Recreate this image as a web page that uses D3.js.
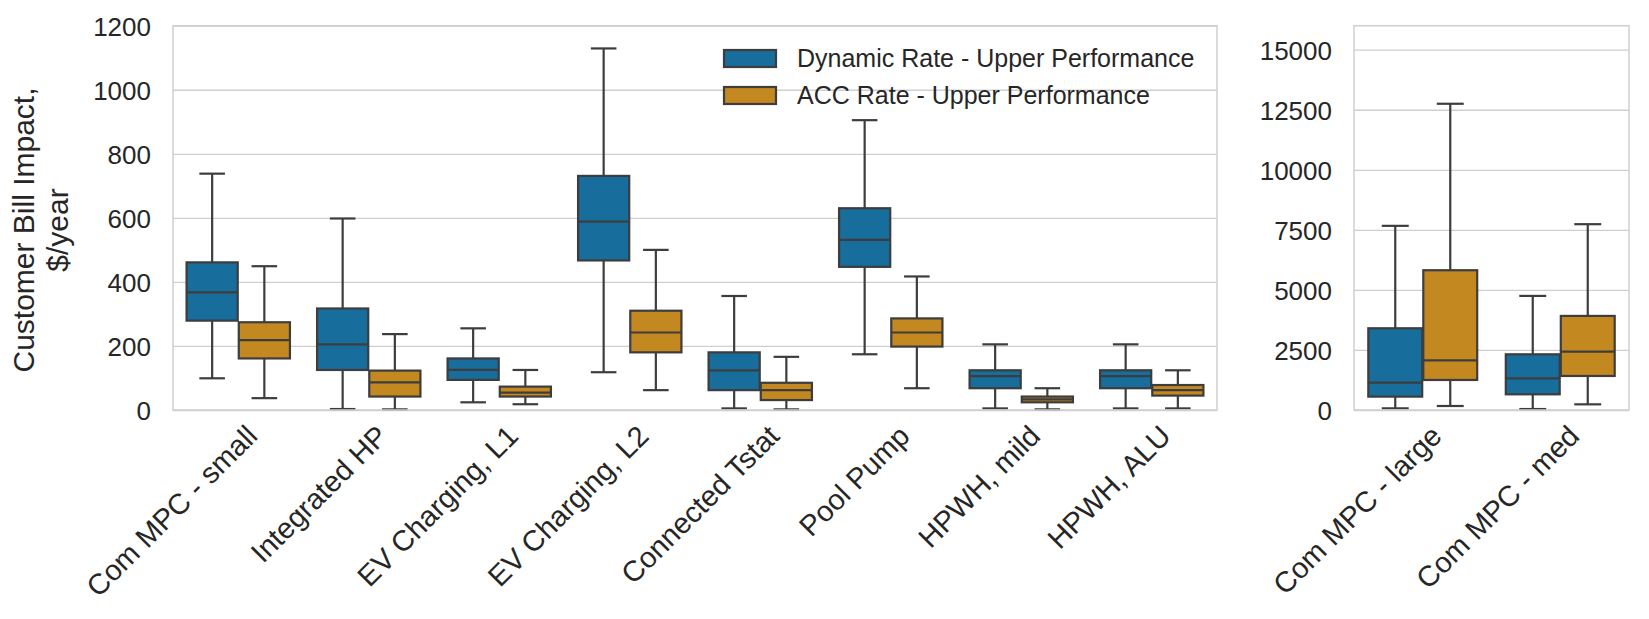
<!DOCTYPE html>
<html>
<head>
<meta charset="utf-8">
<script src="https://cdn.jsdelivr.net/npm/d3@7/dist/d3.min.js"></script>
<style>
  html, body { margin: 0; padding: 0; background: #fff; }
  svg { display: block; font-family: "Liberation Sans", Arial, sans-serif; }
</style>
</head>
<body>
<div id="chart"></div>
<script>
// data: [low whisker, q1, median, q3, high whisker]
var seriesNames = ['Dynamic Rate - Upper Performance', 'ACC Rate - Upper Performance'];

var leftCategories = [
  'Com MPC - small', 'Integrated HP', 'EV Charging, L1', 'EV Charging, L2',
  'Connected Tstat', 'Pool Pump', 'HPWH, mild', 'HPWH, ALU'
];
var leftDynamic = [
  [99, 279, 367, 461, 738],
  [3, 125, 205, 317, 598],
  [24, 94, 125, 161, 255],
  [118, 467, 588, 731, 1129],
  [5, 62, 124, 180, 356],
  [174, 447, 531, 630, 905],
  [5, 68, 106, 124, 205],
  [5, 68, 106, 124, 205]
];
var leftAcc = [
  [37, 161, 218, 274, 449],
  [2, 42, 86, 123, 237],
  [18, 42, 54, 73, 125],
  [62, 180, 242, 310, 500],
  [2, 31, 62, 85, 166],
  [68, 198, 242, 286, 417],
  [2, 24, 33, 42, 68],
  [5, 45, 62, 78, 124]
];
var leftTicks = [0, 200, 400, 600, 800, 1000, 1200];

var rightCategories = ['Com MPC - large', 'Com MPC - med'];
var rightDynamic = [
  [69, 556, 1139, 3403, 7667],
  [40, 653, 1319, 2319, 4750]
];
var rightAcc = [
  [167, 1250, 2069, 5819, 12750],
  [236, 1417, 2431, 3917, 7736]
];
var rightTicks = [0, 2500, 5000, 7500, 10000, 12500, 15000];

//============================================================
// Settings
//------------------------------------------------------------
var width = 1649,
  height = 619,
  plotTop = 25.7,
  plotBottom = 410,
  colors = ['#176d9c', '#c38820'],
  edge = '#3d3d3d',
  gridColor = '#cfcfcf',
  textColor = '#262626';

var svg = d3
  .select('#chart')
  .append('svg')
  .attr('width', width)
  .attr('height', height);

svg
  .append('rect')
  .attr('width', width)
  .attr('height', height)
  .attr('fill', '#fff');

function boxPanel(cfg) {
  var g = svg.append('g');

  var x = d3
    .scaleBand()
    .domain(cfg.categories)
    .range([cfg.left, cfg.right]);
  var hue = d3
    .scaleBand()
    .domain(d3.range(cfg.series.length))
    .range([x.bandwidth() * 0.1, x.bandwidth() * 0.9]);
  var y = d3
    .scaleLinear()
    .domain(cfg.domain)
    .range([plotBottom, plotTop]);

  // grid + tick labels
  var yAxis = d3
    .axisLeft(y)
    .tickValues(cfg.ticks)
    .tickFormat(d3.format('d'))
    .tickSize(-(cfg.right - cfg.left))
    .tickPadding(22);

  var axisG = g
    .append('g')
    .attr('transform', 'translate(' + cfg.left + ',0)')
    .call(yAxis);
  axisG.select('.domain').remove();
  axisG
    .selectAll('.tick line')
    .attr('stroke', gridColor)
    .attr('stroke-width', 1.3);
  axisG
    .selectAll('.tick text')
    .attr('fill', textColor)
    .attr('font-size', 26)
    .attr('font-family', '"Liberation Sans", Arial, sans-serif')
    .attr('dy', '0.36em');

  // boxes
  var bw = hue.bandwidth() * 0.98;
  cfg.series.forEach(function(values, si) {
    var boxes = g
      .append('g')
      .selectAll('g.box')
      .data(values)
      .enter()
      .append('g')
      .attr('class', 'box')
      .attr('transform', function(d, i) {
        return 'translate(' + (x(cfg.categories[i]) + hue(si) + hue.bandwidth() / 2) + ',0)';
      });

    boxes
      .append('line')
      .attr('y1', function(d) { return y(d[0]); })
      .attr('y2', function(d) { return y(d[1]); });
    boxes
      .append('line')
      .attr('y1', function(d) { return y(d[3]); })
      .attr('y2', function(d) { return y(d[4]); });
    boxes
      .append('line')
      .attr('x1', -bw / 4)
      .attr('x2', bw / 4)
      .attr('y1', function(d) { return y(d[0]); })
      .attr('y2', function(d) { return y(d[0]); });
    boxes
      .append('line')
      .attr('x1', -bw / 4)
      .attr('x2', bw / 4)
      .attr('y1', function(d) { return y(d[4]); })
      .attr('y2', function(d) { return y(d[4]); });
    boxes
      .append('rect')
      .attr('x', -bw / 2)
      .attr('width', bw)
      .attr('y', function(d) { return y(d[3]); })
      .attr('height', function(d) { return y(d[1]) - y(d[3]); })
      .attr('fill', colors[si]);
    boxes
      .append('line')
      .attr('x1', -bw / 2)
      .attr('x2', bw / 2)
      .attr('y1', function(d) { return y(d[2]); })
      .attr('y2', function(d) { return y(d[2]); });

    boxes
      .selectAll('line, rect')
      .attr('stroke', edge)
      .attr('stroke-width', 2.2);
  });

  // category labels, rotated
  g
    .append('g')
    .selectAll('text')
    .data(cfg.categories)
    .enter()
    .append('text')
    .attr('transform', function(d) {
      return 'translate(' + (x(d) + x.bandwidth() / 2 + 6) + ',423) rotate(-45)';
    })
    .attr('text-anchor', 'end')
    .attr('dy', '0.72em')
    .attr('font-size', 29)
    .attr('fill', textColor)
    .text(function(d) { return d; });

  // frame on top
  g
    .append('rect')
    .attr('x', cfg.left)
    .attr('y', plotTop)
    .attr('width', cfg.right - cfg.left)
    .attr('height', plotBottom - plotTop)
    .attr('fill', 'none')
    .attr('stroke', gridColor)
    .attr('stroke-width', 1.5);

  return g;
}

boxPanel({
  categories: leftCategories,
  series: [leftDynamic, leftAcc],
  domain: [0, 1200],
  ticks: leftTicks,
  left: 173,
  right: 1217
});

boxPanel({
  categories: rightCategories,
  series: [rightDynamic, rightAcc],
  domain: [0, 16000],
  ticks: rightTicks,
  left: 1354,
  right: 1629
});

//============================================================
// Y label
//------------------------------------------------------------
var ylabel = svg
  .append('text')
  .attr('transform', 'translate(0,230) rotate(-90)')
  .attr('text-anchor', 'middle')
  .attr('font-size', 30)
  .attr('fill', textColor);
ylabel.append('tspan').attr('x', 0).attr('y', 34).text('Customer Bill Impact,');
ylabel.append('tspan').attr('x', 0).attr('y', 68).text('$/year');

//============================================================
// Legend (no frame)
//------------------------------------------------------------
var legend = svg
  .append('g')
  .attr('transform', 'translate(724,50)')
  .selectAll('g')
  .data(seriesNames)
  .enter()
  .append('g')
  .attr('transform', function(d, i) {
    return 'translate(0,' + i * 37 + ')';
  });

legend
  .append('rect')
  .attr('width', 52)
  .attr('height', 17)
  .attr('fill', function(d, i) { return colors[i]; })
  .attr('stroke', edge)
  .attr('stroke-width', 2.2);

legend
  .append('text')
  .attr('x', 73)
  .attr('y', 16.5)
  .attr('font-size', 25)
  .attr('fill', textColor)
  .text(function(d) { return d; });
</script>
</body>
</html>
